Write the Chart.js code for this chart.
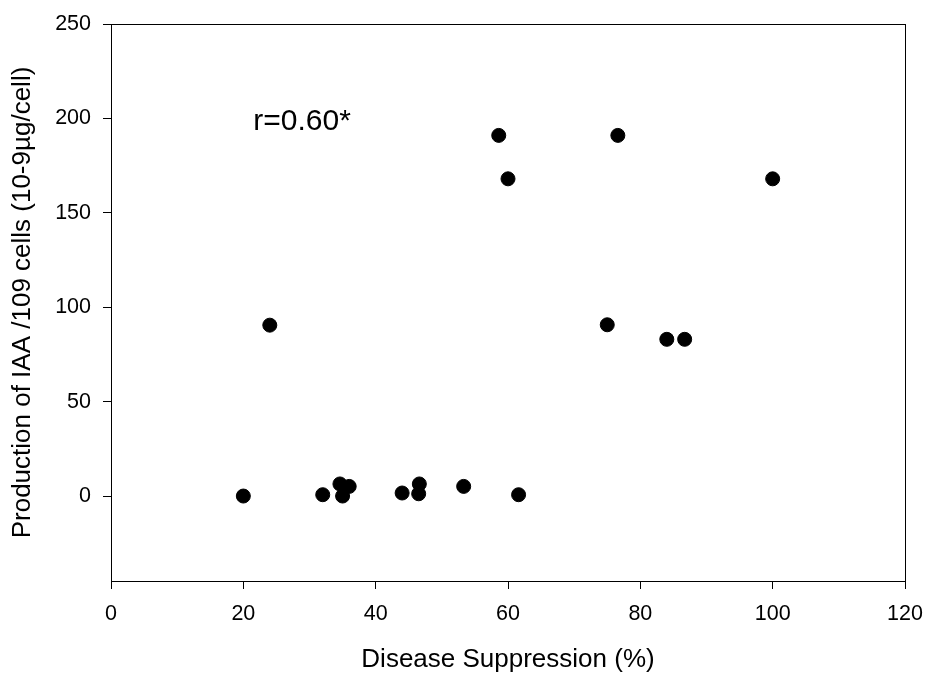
<!DOCTYPE html>
<html>
<head>
<meta charset="utf-8">
<script src="https://cdn.jsdelivr.net/npm/chart.js@4/dist/chart.umd.min.js"></script>
<style>
  html, body { margin: 0; padding: 0; background: #fff; }
</style>
</head>
<body>
<canvas id="scatterChart" width="926" height="673"></canvas>
<script>
const suppression = [20, 24, 32, 34.6, 35, 36, 44, 46.5, 46.6, 53.3, 58.6, 60, 61.6, 75, 76.6, 84, 86.7, 100];
const iaa = [0, 90.5, 0.7, 6.4, 0, 5.1, 1.6, 1.2, 6.4, 5.1, 191, 168, 0.7, 90.7, 191, 83, 83, 168];
const xTicks = [0, 20, 40, 60, 80, 100, 120];
const yTicks = [0, 50, 100, 150, 200, 250];
const noteText = 'r=0.60*';

const points = suppression.map((x, i) => ({ x: x, y: iaa[i] }));

// box round the plot area plus the r value
const boxAndNote = {
    id: 'boxAndNote',
    afterDraw(chart) {
        const c = chart.ctx;
        const a = chart.chartArea;
        c.save();
        c.strokeStyle = '#000';
        c.lineWidth = 1;
        c.strokeRect(a.left + 0.5, a.top + 0.5, a.right - a.left, a.bottom - a.top);
        c.fillStyle = '#000';
        c.font = '30px "Liberation Sans", Arial, sans-serif';
        c.textBaseline = 'alphabetic';
        c.fillText(noteText, chart.scales.x.getPixelForValue(21.5), chart.scales.y.getPixelForValue(194));
        c.restore();
    }
};

const tickFont = { family: '"Liberation Sans", Arial, sans-serif', size: 21.5 };
const titleFont = { family: '"Liberation Sans", Arial, sans-serif', size: 26, lineHeight: 1 };

const ctx = document.getElementById('scatterChart').getContext('2d');
const scatterChart = new Chart(ctx, {
    type: 'scatter',
    data: {
        datasets: [{
            data: points,
            backgroundColor: '#000',
            borderColor: '#000',
            pointRadius: 7,
            pointHoverRadius: 7
        }]
    },
    options: {
        responsive: false,
        animation: false,
        layout: { padding: { top: 24, right: 21, left: 0, bottom: 0 } },
        plugins: { legend: { display: false }, tooltip: { enabled: false } },
        scales: {
            x: {
                type: 'linear',
                min: 0,
                max: 120,
                afterBuildTicks: s => { s.ticks = xTicks.map(v => ({ value: v })); },
                afterFit: s => { s.height = 92; s.paddingLeft = 0; s.paddingRight = 0; },
                ticks: { color: '#000', font: tickFont, padding: 12, maxRotation: 0, autoSkip: false },
                grid: { drawOnChartArea: false, tickLength: 8, color: '#000' },
                border: { color: '#000' },
                title: { display: true, text: 'Disease Suppression (%)', color: '#000', font: titleFont, padding: { top: 0, bottom: 0 } }
            },
            y: {
                type: 'linear',
                min: -45,
                max: 250,
                afterBuildTicks: s => { s.ticks = yTicks.map(v => ({ value: v })); },
                afterFit: s => { s.width = 111; s.paddingTop = 0; s.paddingBottom = 0; },
                ticks: { color: '#000', font: tickFont, padding: 12, autoSkip: false },
                grid: { drawOnChartArea: false, tickLength: 8, color: '#000' },
                border: { color: '#000' },
                title: { display: true, text: 'Production of IAA /109 cells (10-9µg/cell)', color: '#000', font: titleFont, padding: { top: 10, bottom: 0 } }
            }
        }
    },
    plugins: [boxAndNote]
});
</script>
</body>
</html>
